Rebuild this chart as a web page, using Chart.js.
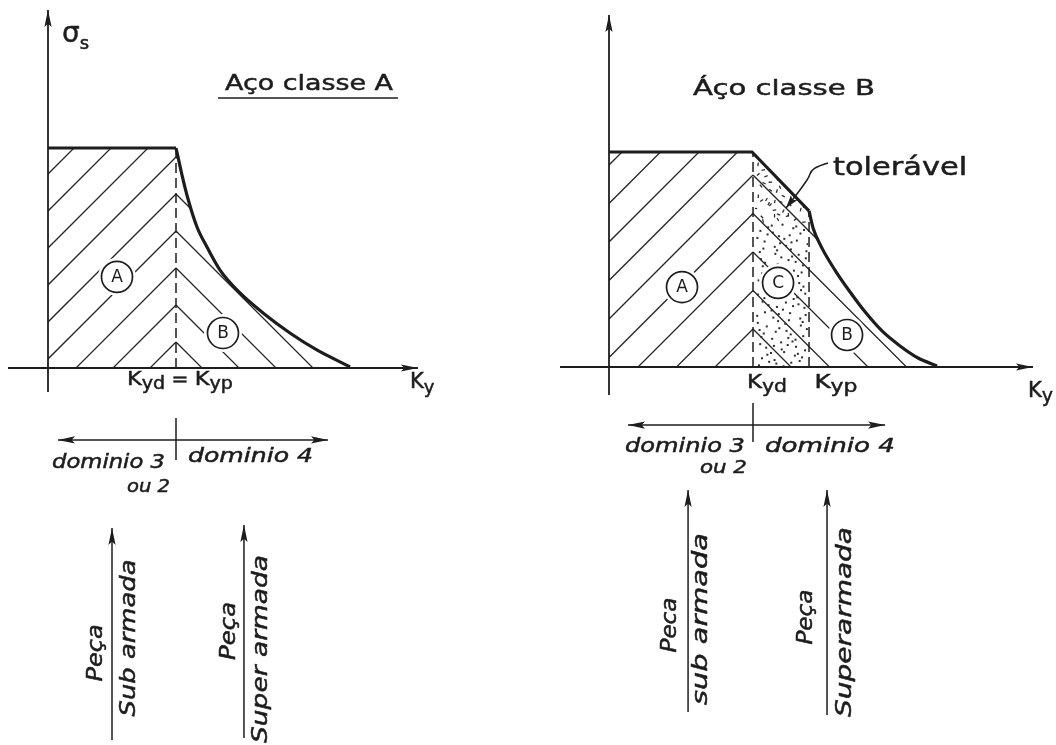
<!DOCTYPE html>
<html>
<head>
<meta charset="utf-8">
<script src="https://cdn.jsdelivr.net/npm/chart.js@4/dist/chart.umd.min.js"></script>
<style>
  html, body { margin: 0; padding: 0; background: #fff; }
  #page { position: relative; width: 1056px; height: 745px; overflow: hidden; background: #fff; }
  canvas { position: absolute; top: 0; }
</style>
</head>
<body>
<div id="page">
  <canvas id="chartA" width="528" height="745" style="left:0"></canvas>
  <canvas id="chartB" width="528" height="745" style="left:528px"></canvas>
</div>
<script>
// Aço classe A: patamar + ramo descendente (σs/fyd em função de ky/kyd)
const kyA_patamar = [0, 1];
const sigA_patamar = [1, 1];
const kyA_ramo = [1, 1.016, 1.047, 1.094, 1.164, 1.242, 1.344, 1.5, 1.68, 1.89, 2.1, 2.36];
const sigA_ramo = [1, 0.959, 0.877, 0.768, 0.641, 0.55, 0.445, 0.341, 0.25, 0.159, 0.082, 0.005];
const kydA = 1; // kyd = kyp

// Aço classe B: patamar, trecho reto até kyp, depois ramo curvo
const kyB_patamar = [0, 0.993, 1.389];
const sigB_patamar = [1, 1, 0.726];
const kyB_ramo = [1.389, 1.417, 1.479, 1.569, 1.674, 1.785, 1.903, 2.021, 2.146, 2.278];
const sigB_ramo = [0.726, 0.647, 0.553, 0.451, 0.349, 0.251, 0.163, 0.098, 0.042, 0.005];
const kydB = 1;
const kypB = 1.389;

const INK = '#1d1d1d';
const HATCH = '#262626';
const FONT = '"DejaVu Sans", "Liberation Sans", sans-serif';
const ROT = -Math.PI / 2;

const xy = (xs, ys) => xs.map((x, i) => ({ x, y: ys[i] }));
const seg = (x1, y1, x2, y2) => [{ x: x1, y: y1 }, { x: x2, y: y2 }];

function line(data, extra) {
  return Object.assign({
    data, borderColor: INK, borderWidth: 1.5, pointRadius: 0,
    tension: 0, fill: false, spanGaps: true
  }, extra || {});
}

// texto em partes (para índices), opcionalmente esticado até uma largura
function drawParts(ctx, t) {
  const style = t.italic ? 'italic ' : '';
  ctx.save();
  let w = 0;
  const widths = t.parts.map(([s, size]) => {
    ctx.font = style + size + 'px ' + FONT;
    const m = ctx.measureText(s).width;
    w += m;
    return m;
  });
  const sx = t.width ? t.width / w : 1;
  ctx.translate(t.px, t.py);
  if (t.rotate) ctx.rotate(t.rotate);
  let x0 = t.align === 'center' ? -w / 2 : t.align === 'right' ? -w : 0;
  ctx.scale(sx, 1);
  ctx.fillStyle = INK;
  ctx.strokeStyle = INK;
  ctx.lineWidth = 0.5;
  ctx.textAlign = 'left';
  ctx.textBaseline = 'alphabetic';
  t.parts.forEach(([s, size, dy], i) => {
    ctx.font = style + size + 'px ' + FONT;
    ctx.fillText(s, x0, dy || 0);
    ctx.strokeText(s, x0, dy || 0);
    x0 += widths[i];
  });
  ctx.restore();
}

function arrowHead(ctx, tip, from, len, half) {
  const dx = tip.x - from.x, dy = tip.y - from.y;
  const d = Math.hypot(dx, dy) || 1;
  const ux = dx / d, uy = dy / d;
  ctx.beginPath();
  ctx.moveTo(tip.x, tip.y);
  ctx.lineTo(tip.x - ux * len - uy * half, tip.y - uy * len + ux * half);
  ctx.lineTo(tip.x - ux * len * 0.8, tip.y - uy * len * 0.8);
  ctx.lineTo(tip.x - ux * len + uy * half, tip.y - uy * len - ux * half);
  ctx.closePath();
  ctx.fill();
}

// área sob a curva tensão x ky (datasets 0 e 1)
function curvePath(chart, ctx) {
  const y0 = chart.scales.y.getPixelForValue(0);
  ctx.beginPath();
  [0, 1].forEach(i => {
    const meta = chart.getDatasetMeta(i);
    const el = meta.dataset;
    const pts = meta.data;
    if (el && el.updateControlPoints) el.updateControlPoints(chart.chartArea, 'x');
    if (el && el.path) {
      el.path(ctx);
    } else {
      pts.forEach((p, k) => (k ? ctx.lineTo(p.x, p.y) : ctx.moveTo(p.x, p.y)));
    }
    ctx.lineTo(pts[pts.length - 1].x, y0);
    ctx.lineTo(pts[0].x, y0);
    ctx.closePath();
  });
}

function clipBand(chart, ctx, xl, xr) {
  curvePath(chart, ctx);
  ctx.clip();
  ctx.beginPath();
  ctx.rect(xl, 0, xr - xl, chart.height);
  ctx.clip();
}

// hachuras em chevron com vértices sobre a vertical de kyd
function hatch(ctx, xk, y0, step, dir) {
  ctx.beginPath();
  for (let k = -30; k <= 30; k++) {
    const a = y0 + k * step;
    ctx.moveTo(xk, a);
    ctx.lineTo(xk + dir * 900, a + 900);
  }
  ctx.stroke();
}

function halton(i, b) {
  let f = 1, r = 0;
  while (i > 0) { f /= b; r += f * (i % b); i = Math.floor(i / b); }
  return r;
}

function sketchPlugin(cfg) {
  return {
    id: 'sketch',
    beforeDatasetsDraw(chart) {
      const ctx = chart.ctx;
      const X = v => chart.scales.x.getPixelForValue(v);
      const Y = v => chart.scales.y.getPixelForValue(v);
      const xk = X(cfg.kyd);
      const apex0 = Y(1) + cfg.apex;

      ctx.save();
      ctx.strokeStyle = HATCH;
      ctx.lineWidth = 1.3;
      clipBand(chart, ctx, 0, xk);
      hatch(ctx, xk, apex0, cfg.step, -1);
      ctx.restore();

      ctx.save();
      ctx.strokeStyle = HATCH;
      ctx.lineWidth = 1.3;
      clipBand(chart, ctx, xk, chart.width);
      hatch(ctx, xk, apex0, cfg.step, 1);
      ctx.restore();

      // pontilhado da zona tolerável (entre kyd e kyp)
      if (cfg.kyp) {
        const xp = X(cfg.kyp);
        const top = Y(1), bot = Y(0);
        ctx.save();
        clipBand(chart, ctx, xk + 2, xp - 1);
        ctx.fillStyle = '#2e2e2e';
        ctx.strokeStyle = '#2e2e2e';
        ctx.lineWidth = 1.3;
        for (let i = 1; i < 190; i++) {
          const px = xk + 3 + halton(i, 2) * (xp - xk - 5);
          const py = top + halton(i, 3) * (bot - top);
          if (i % 3 === 0) {
            const ang = i * 2.39;
            ctx.beginPath();
            ctx.moveTo(px, py);
            ctx.lineTo(px + Math.cos(ang) * 3.5, py + Math.sin(ang) * 3.5);
            ctx.stroke();
          } else {
            ctx.fillRect(px, py, 2, 2);
          }
        }
        ctx.restore();
      }

      // círculos das regiões
      ctx.save();
      cfg.circles.forEach(([txt, cx, cy]) => {
        const px = X(cx), py = Y(cy);
        ctx.fillStyle = '#fff';
        ctx.beginPath();
        ctx.arc(px, py, 19, 0, Math.PI * 2);
        ctx.fill();
        ctx.strokeStyle = INK;
        ctx.lineWidth = 1.7;
        ctx.beginPath();
        ctx.arc(px, py, 15.5, 0, Math.PI * 2);
        ctx.stroke();
        ctx.fillStyle = INK;
        ctx.font = '17px ' + FONT;
        ctx.textAlign = 'center';
        ctx.textBaseline = 'middle';
        ctx.fillText(txt, px, py + 1);
      });
      ctx.restore();
    },
    afterDatasetsDraw(chart) {
      const ctx = chart.ctx;
      const X = v => chart.scales.x.getPixelForValue(v);
      const Y = v => chart.scales.y.getPixelForValue(v);
      ctx.save();
      ctx.fillStyle = INK;
      chart.data.datasets.forEach((ds, i) => {
        if (!ds.arrow) return;
        const pts = chart.getDatasetMeta(i).data;
        const a = pts[0], b = pts[pts.length - 1];
        arrowHead(ctx, b, a, 17, 3.6);
        if (ds.arrow === 'both') arrowHead(ctx, a, b, 17, 3.6);
      });

      if (cfg.leader) {
        const p = cfg.leader.map(([x, y]) => ({ x: X(x), y: Y(y) }));
        ctx.strokeStyle = INK;
        ctx.lineWidth = 1.5;
        ctx.lineJoin = 'round';
        ctx.beginPath();
        ctx.moveTo(p[0].x, p[0].y);
        for (let k = 1; k < p.length - 1; k++) {
          const mx = (p[k].x + p[k + 1].x) / 2, my = (p[k].y + p[k + 1].y) / 2;
          ctx.quadraticCurveTo(p[k].x, p[k].y, mx, my);
        }
        ctx.lineTo(p[p.length - 1].x, p[p.length - 1].y);
        ctx.stroke();
        arrowHead(ctx, p[p.length - 1], p[p.length - 2], 13, 4);
      }

      cfg.texts.forEach(t => drawParts(ctx, Object.assign({ px: X(t.x), py: Y(t.y) }, t)));
      ctx.restore();
    }
  };
}

function buildChart(id, cfg, datasets) {
  return new Chart(document.getElementById(id), {
    type: 'line',
    data: { datasets },
    options: {
      responsive: false,
      animation: false,
      devicePixelRatio: 1,
      events: [],
      layout: { padding: 0 },
      plugins: { legend: { display: false }, tooltip: { enabled: false }, title: { display: false } },
      scales: {
        x: { type: 'linear', min: cfg.xRange[0], max: cfg.xRange[1], display: false },
        y: { type: 'linear', min: cfg.yRange[0], max: cfg.yRange[1], display: false }
      }
    },
    plugins: [sketchPlugin(cfg)]
  });
}

// ---- Aço classe A ----
const cfgA = {
  xRange: [-0.375, 3.75],
  yRange: [-1.7136, 1.6727],
  kyd: kydA, kyp: null, apex: 9, step: 37,
  circles: [['A', 0.539, 0.414], ['B', 1.367, 0.159]],
  leader: null,
  texts: [
    { parts: [['σ', 28], ['s', 18, 7]], x: 0.109, y: 1.482 },
    { parts: [['Aço classe A', 22]], x: 1.383, y: 1.264, width: 168 },
    { parts: [['K', 20], ['yd', 17, 4], [' = ', 18], ['K', 20], ['yp', 17, 4]], x: 1.031, y: -0.077, align: 'center', width: 106 },
    { parts: [['K', 21], ['y', 18, 5]], x: 2.828, y: -0.091 },
    { parts: [['dominio 3', 19]], x: 0.914, y: -0.4545, align: 'right', width: 113, italic: true },
    { parts: [['ou 2', 18]], x: 0.953, y: -0.5636, align: 'right', width: 43, italic: true },
    { parts: [['dominio 4', 19]], x: 1.094, y: -0.427, width: 125, italic: true },
    { parts: [['Peça', 21]], x: 0.422, y: -1.295, align: 'center', rotate: ROT, width: 57, italic: true },
    { parts: [['Sub armada', 22]], x: 0.68, y: -1.227, align: 'center', rotate: ROT, width: 157, italic: true },
    { parts: [['Peça', 21]], x: 1.461, y: -1.195, align: 'center', rotate: ROT, width: 58, italic: true },
    { parts: [['Super armada', 22]], x: 1.711, y: -1.277, align: 'center', rotate: ROT, width: 188, italic: true }
  ]
};

buildChart('chartA', cfgA, [
  line(xy(kyA_patamar, sigA_patamar), { borderWidth: 3.2 }),
  line(xy(kyA_ramo, sigA_ramo), { borderWidth: 3.2, cubicInterpolationMode: 'monotone' }),
  line(seg(kydA, 0, kydA, 1), { borderDash: [10, 5] }),
  line(seg(-0.3125, 0, 2.89, 0), { borderWidth: 1.8, arrow: 'end' }),
  line(seg(0, -0.109, 0, 1.627), { borderWidth: 1.8, arrow: 'end' }),
  line(seg(0.078, -0.327, 2.1875, -0.327), { arrow: 'both' }),
  line(seg(kydA, -0.227, kydA, -0.418)),
  line(seg(1.328, 1.227, 2.734, 1.227)),
  line(seg(0.5, -1.691, 0.5, -0.727), { arrow: 'end' }),
  line(seg(1.531, -1.682, 1.531, -0.714), { arrow: 'end' })
]);

// ---- Aço classe B ----
const cfgB = {
  xRange: [-0.5625, 3.104],
  yRange: [-1.758, 1.707],
  kyd: kydB, kyp: kypB, apex: 23, step: 38.5,
  circles: [['A', 0.507, 0.372], ['C', 1.174, 0.391], ['B', 1.653, 0.149]],
  leader: [[1.521, 0.949], [1.451, 0.935], [1.403, 0.912], [1.389, 0.884], [1.361, 0.856], [1.306, 0.805], [1.229, 0.74]],
  texts: [
    { parts: [['Áço classe B', 22]], x: 0.583, y: 1.265, width: 182 },
    { parts: [['tolerável', 24]], x: 1.556, y: 0.893, width: 134 },
    { parts: [['K', 19], ['yd', 17, 4]], x: 1.097, y: -0.098, align: 'center', width: 40 },
    { parts: [['K', 19], ['yp', 17, 4]], x: 1.576, y: -0.098, align: 'center', width: 43 },
    { parts: [['K', 21], ['y', 19, 5]], x: 2.91, y: -0.14 },
    { parts: [['dominio 3', 19]], x: 0.944, y: -0.395, align: 'right', width: 120, italic: true },
    { parts: [['ou 2', 18]], x: 0.958, y: -0.493, align: 'right', width: 47, italic: true },
    { parts: [['dominio 4', 19]], x: 1.083, y: -0.395, width: 130, italic: true },
    { parts: [['Peca', 21]], x: 0.465, y: -1.2, align: 'center', rotate: ROT, width: 55, italic: true },
    { parts: [['sub armada', 22]], x: 0.681, y: -1.172, align: 'center', rotate: ROT, width: 172, italic: true },
    { parts: [['Peça', 21]], x: 1.41, y: -1.163, align: 'center', rotate: ROT, width: 55, italic: true },
    { parts: [['Superarmada', 22]], x: 1.681, y: -1.186, align: 'center', rotate: ROT, width: 190, italic: true }
  ]
};

buildChart('chartB', cfgB, [
  line(xy(kyB_patamar, sigB_patamar), { borderWidth: 3.2 }),
  line(xy(kyB_ramo, sigB_ramo), { borderWidth: 3.2, cubicInterpolationMode: 'monotone' }),
  line(seg(kydB, 0, kydB, 1), { borderDash: [10, 5] }),
  line(seg(kypB, 0, kypB, sigB_ramo[0]), { borderDash: [10, 5] }),
  line(seg(-0.34, 0, 2.944, 0), { borderWidth: 1.8, arrow: 'end' }),
  line(seg(0, -0.13, 0, 1.637), { borderWidth: 1.8, arrow: 'end' }),
  line(seg(0.132, -0.27, 1.917, -0.27), { arrow: 'both' }),
  line(seg(kydB, -0.167, kydB, -0.349)),
  line(seg(0.549, -1.605, 0.549, -0.572), { arrow: 'end' }),
  line(seg(1.514, -1.619, 1.514, -0.572), { arrow: 'end' })
]);
</script>
</body>
</html>
